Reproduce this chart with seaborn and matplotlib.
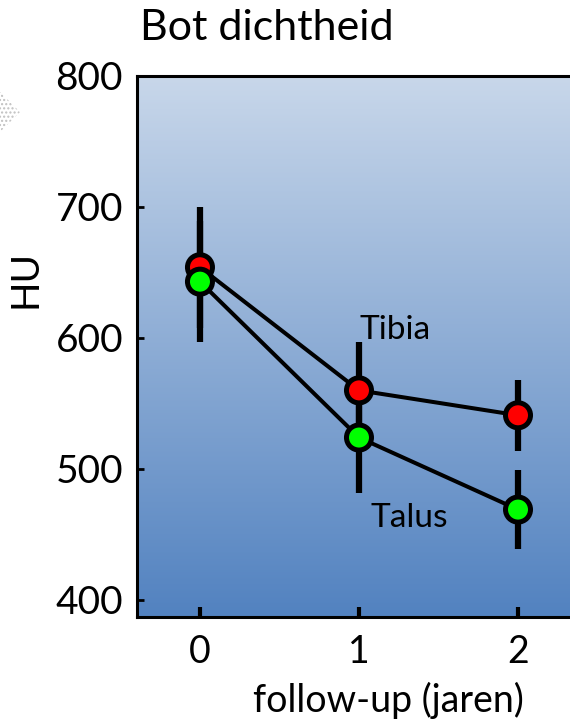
import numpy as np
import pandas as pd
import matplotlib
matplotlib.use("Agg")
import matplotlib.pyplot as plt
import seaborn as sns
from matplotlib.colors import LinearSegmentedColormap
from matplotlib.patches import Polygon

# Bone density (HU) over follow-up years
years = [0, 1, 2]
tibia_mean = [654, 560, 541]
tibia_err = [46, 37, 27]
talus_mean = [643, 524, 469]
talus_err = [46, 42, 30]
series_names = ["Tibia", "Talus"]
y_ticks = [400, 500, 600, 700, 800]
x_ticks = [0, 1, 2]

df = pd.DataFrame({
    "jaar": years * 2,
    "HU": tibia_mean + talus_mean,
    "err": tibia_err + talus_err,
    "reeks": [series_names[0]] * 3 + [series_names[1]] * 3,
})

sns.set_style("white")
plt.rcParams["font.family"] = ["Lato", "DejaVu Sans"]
plt.rcParams["text.color"] = "black"
plt.rcParams["axes.labelcolor"] = "black"

fig = plt.figure(figsize=(5.70, 7.24), dpi=100)
ax = fig.add_axes([137 / 570, 1 - 617 / 724, 1 - 137 / 570, (617 - 76) / 724])

xmin, xmax = -0.396, 2.327
ymin, ymax = 387, 800
ax.set_xlim(xmin, xmax)
ax.set_ylim(ymin, ymax)

# vertical gradient background
cmap = LinearSegmentedColormap.from_list("bg", ["#5282c0", "#c8d7ea"])
grad = np.linspace(0, 1, 256).reshape(-1, 1)
ax.imshow(grad, extent=[xmin, xmax, ymin, ymax], origin="lower",
          aspect="auto", cmap=cmap, zorder=0)

# connecting lines
sns.lineplot(data=df, x="jaar", y="HU", hue="reeks",
             palette={"Tibia": "black", "Talus": "black"},
             linewidth=2.9, legend=False, ax=ax, zorder=2, errorbar=None)

# error bars
for name in series_names:
    sub = df[df["reeks"] == name]
    ax.errorbar(sub["jaar"], sub["HU"], yerr=sub["err"], fmt="none",
                ecolor="black", elinewidth=4.5, capsize=0, zorder=3)

# markers
sns.scatterplot(data=df, x="jaar", y="HU", hue="reeks",
                palette={"Tibia": "#ff0000", "Talus": "#00ff00"},
                s=18 ** 2, edgecolor="black", linewidth=3.6,
                legend=False, ax=ax, zorder=4)

ax.text(1.006, 599, "Tibia", fontsize=24, va="baseline", ha="left",
        color="black")
ax.text(1.07, 456, "Talus", fontsize=24, va="baseline", ha="left",
        color="black")

ax.set_xticks(x_ticks)
ax.set_yticks(y_ticks)
ax.tick_params(axis="x", direction="in", length=7, width=3, pad=12,
               labelsize=27, bottom=True, colors="black")
ax.tick_params(axis="y", direction="in", length=5, width=2, pad=10,
               labelsize=28, left=True, colors="black")

for side in ["left", "bottom", "top"]:
    ax.spines[side].set_visible(True)
    ax.spines[side].set_color("black")
    ax.spines[side].set_linewidth(2.2)
ax.spines["right"].set_visible(False)

ax.set_xlabel("follow-up (jaren)", fontsize=27, color="black")
ax.xaxis.set_label_coords((388 - 137) / (570 - 137), -(682 - 617) / 541)
ax.set_ylabel("HU", fontsize=28, color="black")
ax.yaxis.set_label_coords((43 - 137) / (570 - 137), (617 - 279) / (617 - 76))

fig.text(140 / 570, 1 - 40 / 724, "Bot dichtheid", fontsize=31,
         ha="left", va="baseline", color="black")

# faint dotted diamond at the left margin
diamond = Polygon([(-20 / 570, 1 - 112 / 724), (0, 1 - 92 / 724),
                   (20 / 570, 1 - 112 / 724), (0, 1 - 132 / 724)],
                  closed=True, transform=fig.transFigure, fill=False,
                  hatch="....", edgecolor="#c0c0c0", linewidth=0)
fig.patches.append(diamond)

fig.savefig("out.png", dpi=100)
